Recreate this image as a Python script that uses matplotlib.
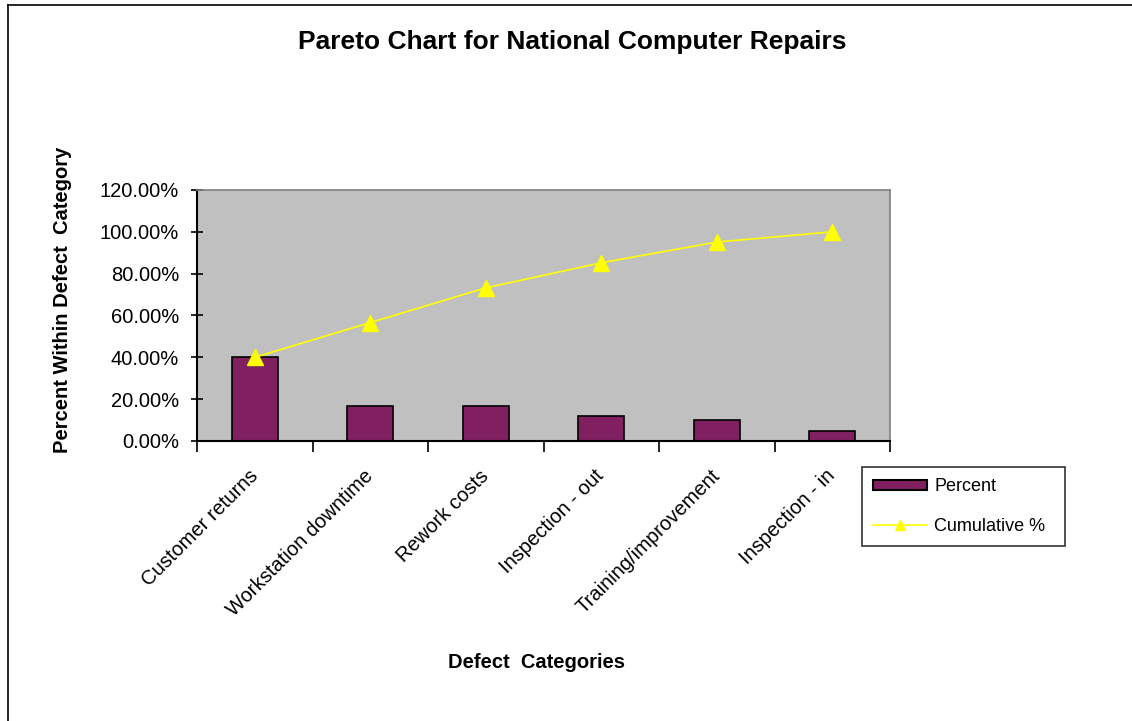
import numpy as np
import matplotlib.pyplot as plt
from matplotlib.lines import Line2D
from matplotlib.patches import Patch
from matplotlib.ticker import FuncFormatter

plt.rcParams['font.family'] = ['Liberation Sans', 'DejaVu Sans']

# data
categories = ["Customer returns", "Workstation downtime", "Rework costs",
              "Inspection - out", "Training/improvement", "Inspection - in"]
percent = [40.0, 16.6, 16.6, 12.0, 9.9, 4.9]
cumulative = [40.0, 56.6, 73.2, 85.2, 95.1, 100.0]

bar_color = '#802060'
line_color = '#ffff00'

W, H = 1132, 721
fig = plt.figure(figsize=(W / 100, H / 100), dpi=100)
fig.patch.set_facecolor('white')

# outer chart border (left and top visible)
fig.add_artist(Line2D([8 / W, 8 / W], [0, 1 - 5 / H], color='black', lw=1.2))
fig.add_artist(Line2D([8 / W, 1], [1 - 5 / H, 1 - 5 / H], color='black', lw=1.2))

ax = fig.add_axes([197 / W, 1 - 441 / H, (890 - 197) / W, (441 - 190) / H])
ax.set_facecolor('#c0c0c0')

x = np.arange(len(categories))
ax.bar(x, percent, width=0.4, color=bar_color, edgecolor='black', linewidth=1.2,
       zorder=2)
ax.plot(x, cumulative, color=line_color, lw=1.2, marker='^', markersize=11,
        markerfacecolor=line_color, markeredgecolor=line_color, zorder=3)

ax.set_xlim(-0.5, len(categories) - 0.5)
ax.set_ylim(0, 120)
ax.set_yticks(np.arange(0, 121, 20))
ax.yaxis.set_major_formatter(FuncFormatter(lambda v, p: f"{v:.2f}%"))
ax.tick_params(axis='y', direction='inout', length=8, width=1.2, labelsize=14.5, pad=9)

# category ticks at boundaries, labels at centres
ax.set_xticks(np.arange(-0.5, len(categories)), minor=False)
ax.set_xticklabels([])
ax.set_xticks(x, minor=True)
ax.set_xticklabels(categories, minor=True, rotation=45, ha='right', va='center',
                   rotation_mode='anchor', fontsize=14.5)
ax.tick_params(axis='x', which='major', direction='out', length=8, width=1.2)
ax.tick_params(axis='x', which='minor', length=0, pad=23)

for side in ['left', 'bottom']:
    ax.spines[side].set_color('black')
    ax.spines[side].set_linewidth(1.5)
for side in ['top', 'right']:
    ax.spines[side].set_color('#808080')
    ax.spines[side].set_linewidth(1.2)

fig.text(572 / W, 1 - 42 / H, "Pareto Chart for National Computer Repairs",
         ha='center', va='center', fontsize=19, fontweight='bold')
fig.text(63 / W, 1 - 300 / H, "Percent Within Defect  Category", rotation=90,
         ha='center', va='center', fontsize=14.5, fontweight='bold')
fig.text(537 / W, 1 - 663 / H, "Defect  Categories",
         ha='center', va='center', fontsize=14.5, fontweight='bold')

handles = [Patch(facecolor=bar_color, edgecolor='black', linewidth=1.5),
           Line2D([0], [0], color=line_color, lw=1.2, marker='^', markersize=7,
                  markerfacecolor=line_color, markeredgecolor=line_color)]
leg = fig.legend(handles, ['Percent', 'Cumulative %'], loc='upper left',
                 bbox_to_anchor=(862 / W, 1 - 468 / H, (1065 - 862) / W, 0.001),
                 mode='expand', fontsize=13, frameon=True, fancybox=False,
                 edgecolor='black', handlelength=3.0, handleheight=0.5,
                 labelspacing=1.25, borderpad=0.6, borderaxespad=0,
                 handletextpad=0.4)
leg.get_frame().set_linewidth(1.2)

fig.savefig('out.png', dpi=100, facecolor='white')
